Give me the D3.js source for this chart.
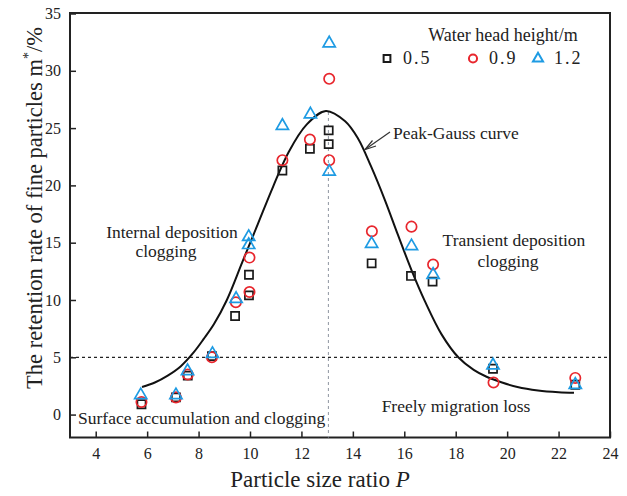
<!DOCTYPE html>
<html>
<head>
<meta charset="utf-8">
<script src="https://cdn.jsdelivr.net/npm/d3@7"></script>
<style>
    body { margin: 0; background: #fff; }
    text { font-family: "Liberation Serif", "Times New Roman", serif; fill: #222; }
</style>
</head>
<body>
<div id="vis-retention"></div>
<script>
// particle size ratio P and retention rate m* (%) for each water head height
const ratio05 = [5.78, 7.12, 7.58, 8.52, 9.42, 9.96, 9.96, 11.26, 12.33, 13.06, 13.06, 14.73, 16.26, 17.1, 19.45, 22.65];
const m05 = [0.9, 1.5, 3.4, 5.1, 8.6, 12.2, 10.4, 21.3, 23.2, 24.8, 23.6, 13.2, 12.1, 11.6, 4.0, 2.6];

const ratio09 = [5.78, 7.12, 7.58, 8.52, 9.45, 9.98, 9.98, 11.26, 12.33, 13.08, 13.08, 14.74, 16.28, 17.12, 19.47, 22.65];
const m09 = [1.1, 1.5, 3.5, 5.0, 9.8, 13.7, 10.7, 22.2, 24.0, 29.3, 22.2, 16.0, 16.4, 13.1, 2.8, 3.2];

const ratio12 = [5.75, 7.12, 7.57, 8.54, 9.46, 9.95, 9.95, 11.26, 12.35, 13.08, 13.08, 14.73, 16.28, 17.12, 19.45, 22.65];
const m12 = [1.7, 1.7, 3.8, 5.3, 10.1, 15.5, 14.8, 25.2, 26.2, 32.4, 21.2, 14.9, 14.7, 12.2, 4.3, 2.6];

// Peak-Gauss fitted curve
const curveX = [5.8, 6.3, 6.8, 7.3, 7.8, 8.2, 8.6, 9.1, 9.7, 10.3, 10.9, 11.5, 12.2, 12.95, 13.7, 14.2, 14.7, 15.25, 15.75, 16.3, 16.8, 17.45, 18.1, 18.7, 19.2, 19.8, 20.4, 21.2, 22.0, 22.6];
const curveY = [2.4, 2.8, 3.4, 4.2, 5.4, 6.6, 7.9, 10.0, 13.3, 16.6, 19.9, 22.9, 25.3, 26.5, 25.6, 24.1, 21.7, 18.7, 15.7, 12.5, 9.9, 7.0, 5.0, 3.9, 3.3, 2.8, 2.4, 2.1, 1.95, 1.9];

const xTicks = [4, 6, 8, 10, 12, 14, 16, 18, 20, 22, 24];
const yTicks = [0, 5, 10, 15, 20, 25, 30, 35];

const seriesNames = ['0.5', '0.9', '1.2'];
const thresholdM = 5;
const peakRatio = 13.05;
const peakM = 26.4;

(function() {
    const width = 627;
    const height = 496;
    const margin = { top: 13.5, right: 17, bottom: 58.5, left: 70 };

    const svg = d3.select('#vis-retention')
        .append('svg')
        .attr('width', width)
        .attr('height', height)
        .attr('viewBox', [0, 0, width, height]);

    const x = d3.scaleLinear()
        .domain([3, 24])
        .range([margin.left, width - margin.right]);

    const y = d3.scaleLinear()
        .domain([-2, 35])
        .range([height - margin.bottom, margin.top]);

    // axes, ticks pointing inward
    const xAxis = svg.append('g')
        .attr('transform', `translate(0,${height - margin.bottom})`)
        .call(d3.axisBottom(x).tickValues(xTicks).tickSizeInner(-6).tickSizeOuter(0).tickPadding(10));

    const yAxis = svg.append('g')
        .attr('transform', `translate(${margin.left},0)`)
        .call(d3.axisLeft(y).tickValues(yTicks).tickSizeInner(-6).tickSizeOuter(0).tickPadding(9));

    [xAxis, yAxis].forEach(g => {
        g.select('.domain').remove();
        g.selectAll('.tick line').attr('stroke', '#222').attr('stroke-width', 1.5);
        g.selectAll('.tick text')
            .style('font-family', '"Liberation Serif", "Times New Roman", serif')
            .style('font-size', '16px')
            .attr('fill', '#333');
    });

    // frame
    svg.append('rect')
        .attr('x', x(3))
        .attr('y', y(35) - 0.5)
        .attr('width', x(24) - x(3))
        .attr('height', y(-2) - y(35) + 0.5)
        .attr('fill', 'none')
        .attr('stroke', '#222')
        .attr('stroke-width', 2);

    // threshold and peak guide lines
    svg.append('line')
        .attr('x1', x(3)).attr('x2', x(24))
        .attr('y1', y(thresholdM)).attr('y2', y(thresholdM))
        .attr('stroke', '#222')
        .attr('stroke-width', 1.3)
        .attr('stroke-dasharray', '3,3');

    svg.append('line')
        .attr('x1', x(peakRatio)).attr('x2', x(peakRatio))
        .attr('y1', y(peakM)).attr('y2', y(-2))
        .attr('stroke', '#9aa0aa')
        .attr('stroke-width', 1.1)
        .attr('stroke-dasharray', '3,3');

    // fitted curve
    const line = d3.line()
        .x(d => x(d[0]))
        .y(d => y(d[1]))
        .curve(d3.curveCatmullRom);

    svg.append('path')
        .datum(d3.zip(curveX, curveY))
        .attr('fill', 'none')
        .attr('stroke', '#111')
        .attr('stroke-width', 2)
        .attr('d', line);

    const series = [
        { xs: ratio05, ys: m05, color: '#1a1a1a', symbol: d3.symbolSquare, size: 66, legendSize: 46 },
        { xs: ratio09, ys: m09, color: '#e8262d', symbol: d3.symbolCircle, size: 84, legendSize: 52 },
        { xs: ratio12, ys: m12, color: '#1e9be3', symbol: d3.symbolTriangle, size: 64, legendSize: 44 },
    ];

    series.forEach(s => {
        svg.append('g')
            .selectAll('path')
            .data(d3.zip(s.xs, s.ys))
            .join('path')
            .attr('transform', d => `translate(${x(d[0])},${y(d[1])})`)
            .attr('d', d3.symbol().type(s.symbol).size(s.size))
            .attr('fill', 'none')
            .attr('stroke', s.color)
            .attr('stroke-width', 1.7);
    });

    // legend
    svg.append('text')
        .attr('x', 503)
        .attr('y', 41)
        .attr('text-anchor', 'middle')
        .style('font-size', '18px')
        .text('Water head height/m');

    const legendX = [387, 473, 538];
    series.forEach((s, i) => {
        svg.append('path')
            .attr('transform', `translate(${legendX[i]},58.5)`)
            .attr('d', d3.symbol().type(s.symbol).size(s.legendSize))
            .attr('fill', 'none')
            .attr('stroke', s.color)
            .attr('stroke-width', 2);
        svg.append('text')
            .attr('x', legendX[i] + 16)
            .attr('y', 64)
            .style('font-size', '18px')
            .style('letter-spacing', '2px')
            .text(seriesNames[i]);
    });

    // annotations
    const note = (tx, ty, str, anchor) => svg.append('text')
        .attr('x', tx)
        .attr('y', ty)
        .attr('text-anchor', anchor || 'start')
        .style('font-size', '17.5px')
        .text(str);

    note(172, 238, 'Internal deposition', 'middle');
    note(166, 257, 'clogging', 'middle');
    note(514, 246, 'Transient deposition', 'middle');
    note(508, 267, 'clogging', 'middle');
    note(393, 139, 'Peak-Gauss curve');
    note(78, 424, 'Surface accumulation and clogging');
    note(456, 412, 'Freely migration loss', 'middle');

    // arrow to the curve
    svg.append('line')
        .attr('x1', 390).attr('y1', 132)
        .attr('x2', 365).attr('y2', 149.5)
        .attr('stroke', '#333')
        .attr('stroke-width', 1.2);
    svg.append('path')
        .attr('d', 'M372.5,140.5 L365,149.5 L376,146')
        .attr('fill', 'none')
        .attr('stroke', '#333')
        .attr('stroke-width', 1.2);

    // axis titles
    svg.append('text')
        .attr('x', 320)
        .attr('y', 487)
        .attr('text-anchor', 'middle')
        .style('font-size', '23px')
        .text('Particle size ratio ')
        .append('tspan')
        .style('font-style', 'italic')
        .text('P');

    const yTitle = svg.append('text')
        .attr('transform', 'translate(42,208) rotate(-90)')
        .attr('text-anchor', 'middle')
        .style('font-size', '22.5px');
    yTitle.append('tspan').text('The retention rate of fine particles m');
    yTitle.append('tspan').attr('dy', -9).style('font-size', '14px').text('*');
    yTitle.append('tspan').attr('dy', 9).text('/%');
})();
</script>
</body>
</html>
